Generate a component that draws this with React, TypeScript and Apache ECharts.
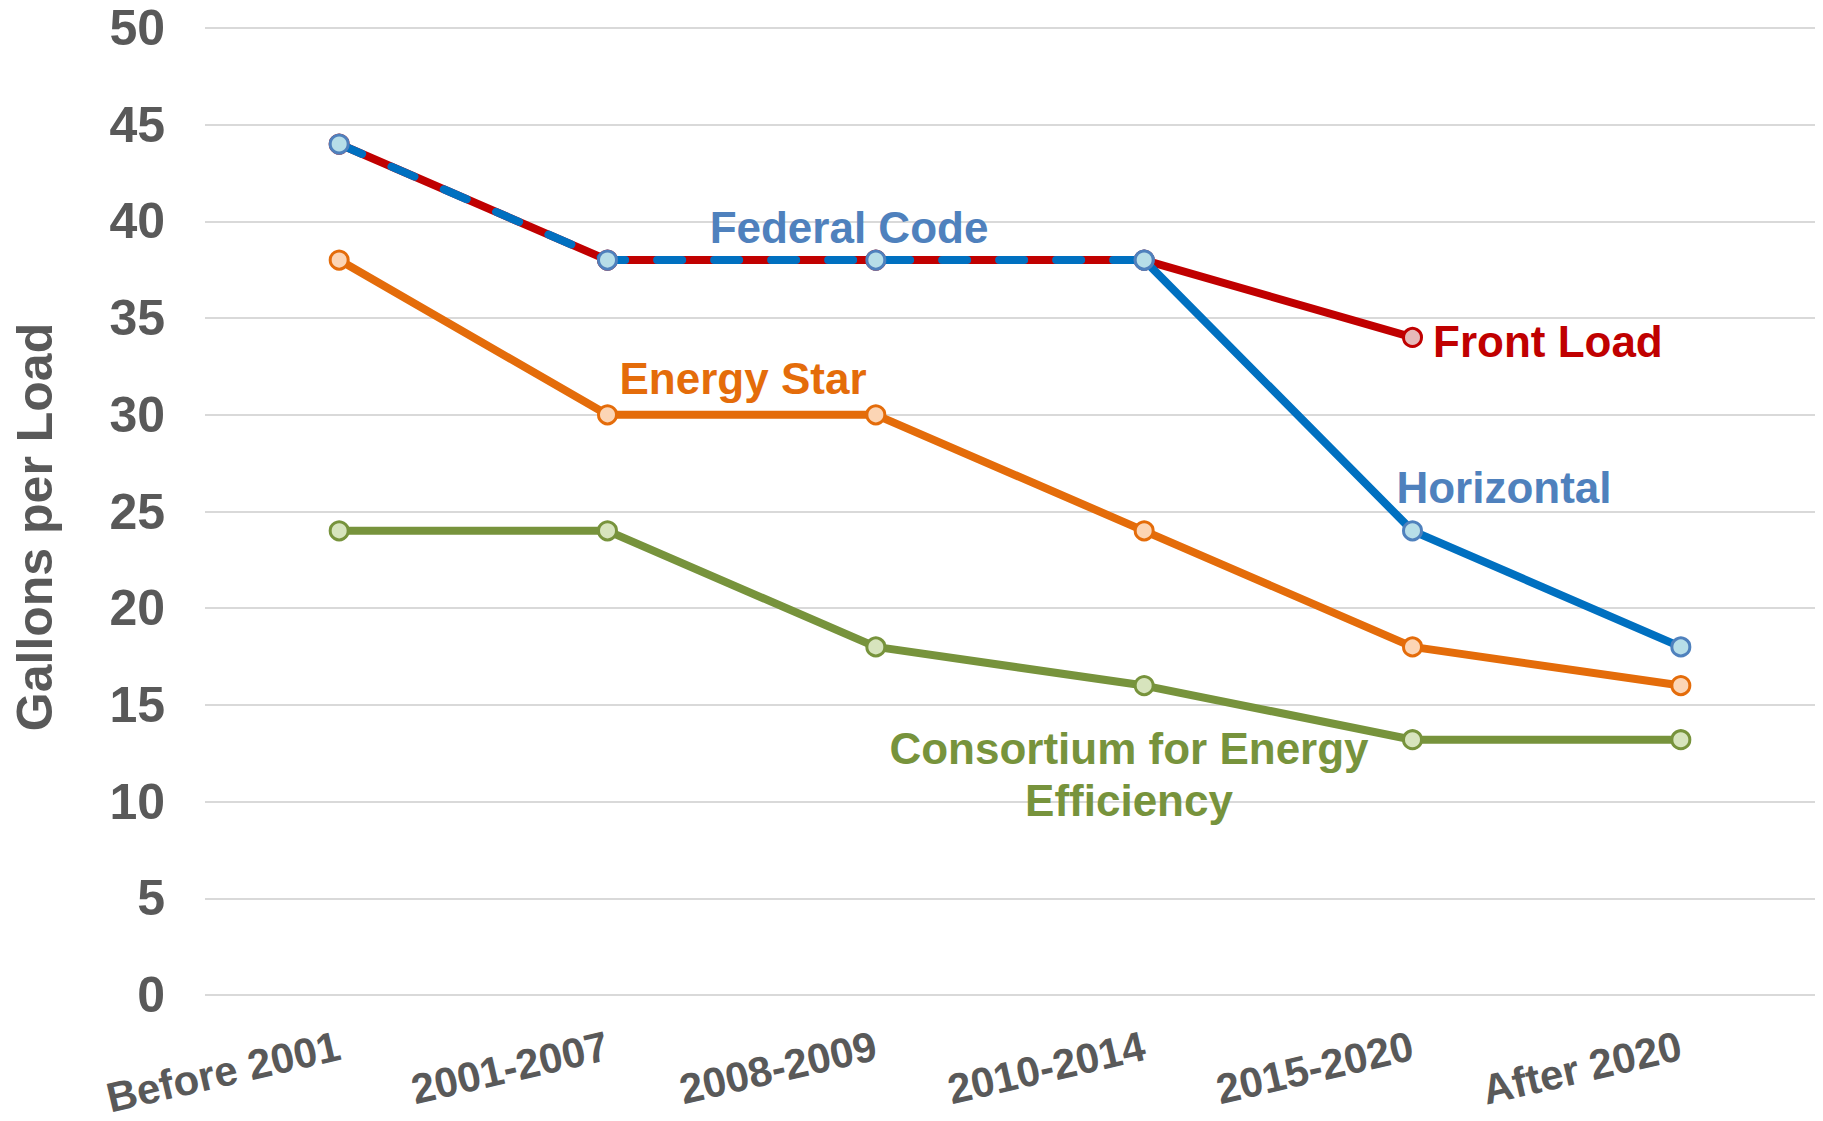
import React, { useEffect, useRef } from "react";
import * as echarts from "echarts";

const categories = ["Before 2001", "2001-2007", "2008-2009", "2010-2014", "2015-2020", "After 2020"];
const frontLoad = [44, 38, 38, 38, 34, null];
const federalCode = [44, 38, 38, 38, null, null];
const horizontal = [null, null, null, 38, 24, 18];
const energyStar = [38, 30, 30, 24, 18, 16];
const cee = [24, 24, 18, 16, 13.2, 13.2];

const yMin = 0;
const yMax = 50;
const yStep = 5;

const FONT = "'Liberation Sans', Arial, sans-serif";
const AXIS_TEXT = "#595959";

export default function App() {
  const ref = useRef<HTMLDivElement>(null);

  useEffect(() => {
    if (!ref.current) return;
    const chart = echarts.init(ref.current, null, { renderer: "svg" });

    const sym = (fill: string, border: string) => ({
      symbol: "circle",
      symbolSize: 18,
      itemStyle: { color: fill, borderColor: border, borderWidth: 3 },
    });

    const annot = (text: string, x: number, y: number, color: string, align = "center") => ({
      type: "text",
      x,
      y,
      z: 100,
      style: {
        text,
        fill: color,
        font: `bold 44px ${FONT}`,
        textAlign: align,
        textVerticalAlign: "middle",
        lineHeight: 52,
      },
    });

    const option: any = {
      animation: false,
      backgroundColor: "#ffffff",
      grid: { left: 205, right: 8, top: 28, bottom: 126, containLabel: false },
      xAxis: {
        type: "category",
        data: categories,
        boundaryGap: true,
        axisLine: { show: false },
        axisTick: { show: false },
        splitLine: { show: false },
        axisLabel: {
          interval: 0,
          rotate: 13,
          margin: 50,
          fontSize: 42,
          fontWeight: "bold",
          fontFamily: FONT,
          color: AXIS_TEXT,
        },
      },
      yAxis: {
        type: "value",
        min: yMin,
        max: yMax,
        interval: yStep,
        axisLine: { show: false },
        axisTick: { show: false },
        splitLine: { show: true, lineStyle: { color: "#D9D9D9", width: 2 } },
        axisLabel: {
          margin: 40,
          fontSize: 50,
          fontWeight: "bold",
          fontFamily: FONT,
          color: AXIS_TEXT,
        },
      },
      series: [
        {
          name: "Front Load",
          type: "line",
          data: frontLoad,
          lineStyle: { color: "#C00000", width: 8 },
          ...sym("#E6B9B8", "#C00000"),
          z: 2,
        },
        {
          name: "Federal Code",
          type: "line",
          data: federalCode,
          lineStyle: { color: "#0070C0", width: 8, type: [25, 32], cap: "round" },
          ...sym("#B7DEE8", "#4F81BD"),
          z: 3,
        },
        {
          name: "Horizontal",
          type: "line",
          data: horizontal,
          lineStyle: { color: "#0070C0", width: 8 },
          ...sym("#B7DEE8", "#4F81BD"),
          z: 3,
        },
        {
          name: "Energy Star",
          type: "line",
          data: energyStar,
          lineStyle: { color: "#E46C0A", width: 8 },
          ...sym("#FCD5B5", "#E46C0A"),
          z: 2,
        },
        {
          name: "Consortium for Energy Efficiency",
          type: "line",
          data: cee,
          lineStyle: { color: "#77933C", width: 8 },
          ...sym("#D7E4BD", "#77933C"),
          z: 2,
        },
      ],
      graphic: [
        {
          type: "text",
          x: 35,
          y: 527,
          rotation: Math.PI / 2,
          style: {
            text: "Gallons per Load",
            fill: AXIS_TEXT,
            font: `bold 50px ${FONT}`,
            textAlign: "center",
            textVerticalAlign: "middle",
          },
        },
        annot("Federal Code", 849, 227, "#4F81BD"),
        annot("Energy Star", 743, 378, "#E46C0A"),
        annot("Front Load", 1433, 341, "#C00000", "left"),
        annot("Horizontal", 1504, 487, "#4F81BD"),
        annot("Consortium for Energy\nEfficiency", 1129, 774, "#77933C"),
      ],
    };

    chart.setOption(option);
    return () => chart.dispose();
  }, []);

  return (
    <div
      ref={ref}
      style={{ position: "fixed", left: 0, top: 0, width: 1823, height: 1121 }}
    />
  );
}
